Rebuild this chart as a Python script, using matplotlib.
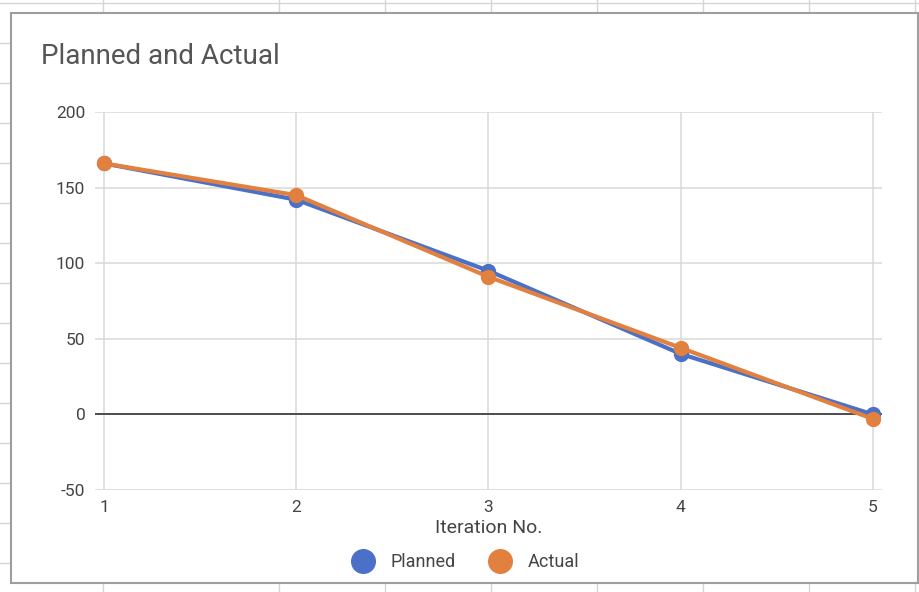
import matplotlib.pyplot as plt
from matplotlib.lines import Line2D
from matplotlib.patches import Rectangle

plt.rcParams['font.family'] = ['Roboto', 'DejaVu Sans']
plt.rcParams['axes.unicode_minus'] = False

# --- Data ---
iterations = [1, 2, 3, 4, 5]
planned = [166, 142, 95, 40, 0]
actual = [166, 145, 91, 44, -3]

blue = "#4a70c8"
orange = "#e2813f"

W, H = 920, 592
fig = plt.figure(figsize=(W / 100, H / 100), dpi=100)

def px(x, y):
    return x / W, 1 - y / H

# spreadsheet cells behind the chart
for y in range(3, 600, 40):
    fig.add_artist(Line2D([0, 1], [px(0, y)[1]] * 2, color="#d6d6d6", lw=1.0, zorder=-3))
for x in [103, 279, 385, 491, 597, 703, 809, 915]:
    fig.add_artist(Line2D([px(x, 0)[0]] * 2, [0, 1], color="#d6d6d6", lw=1.0, zorder=-3))

# chart card
x0, y0 = px(11, 583)
x1, y1 = px(918, 13)
fig.add_artist(Rectangle((x0, y0), x1 - x0, y1 - y0, transform=fig.transFigure,
                         facecolor="white", edgecolor="#9e9e9e", lw=1.5, zorder=-2))

# --- Plot ---
left, bottom = px(95, 490)
ax = fig.add_axes([left, bottom, 787 / W, 378 / H])
ax.set_facecolor("none")

ax.plot(iterations, planned, color=blue, lw=3, marker="o", markersize=10,
        solid_capstyle="round", zorder=3)
ax.plot(iterations, actual, color=orange, lw=3, marker="o", markersize=10,
        solid_capstyle="round", zorder=4)
ax.axhline(0, color="#333333", lw=1.2, zorder=2)

ax.set_xlim(1 - 9 / 192.25, 5 + 9 / 192.25)
ax.set_ylim(-50, 200)
ax.set_xticks(iterations)
ax.set_yticks([-50, 0, 50, 100, 150, 200])
ax.grid(True, color="#d9d9d9", lw=1.1, zorder=0)
for s in ax.spines.values():
    s.set_visible(False)
ax.tick_params(length=0, labelsize=12.5, labelcolor="#444444")
ax.tick_params(axis="y", pad=7)
ax.tick_params(axis="x", pad=7)
ax.set_xlabel("Iteration No.", fontsize=14, color="#444444", labelpad=3)

fig.text(*px(41, 57), "Planned and Actual", fontsize=20, color="#555555",
         ha="left", va="center")

handles = [Line2D([], [], ls="", marker="o", markersize=17, color=blue),
           Line2D([], [], ls="", marker="o", markersize=17, color=orange)]
fig.legend(handles, ["Planned", "Actual"], loc="center",
           bbox_to_anchor=px(462, 562), ncol=2, frameon=False,
           fontsize=13, labelcolor="#444444", handletextpad=0.5,
           columnspacing=1.5, borderpad=0)

fig.savefig("out.png", dpi=100)
